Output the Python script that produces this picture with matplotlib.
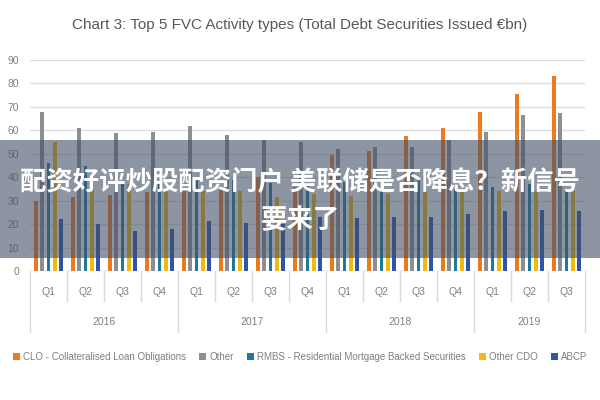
import numpy as np
import matplotlib
matplotlib.use("Agg")
import matplotlib.pyplot as plt
from matplotlib.patches import Rectangle
import matplotlib.transforms as mtransforms

# values (EUR bn)
years = ['2016', '2017', '2018', '2019']
quarters = ['Q1', 'Q2', 'Q3', 'Q4', 'Q1', 'Q2', 'Q3', 'Q4',
            'Q1', 'Q2', 'Q3', 'Q4', 'Q1', 'Q2', 'Q3']
clo = [30, 31.5, 32.5, 33.5, 35, 35, 40, 36, 49.5, 51, 57.5, 61, 68, 75.5, 83]
other = [68, 61, 59, 59.5, 62, 58, 56, 55, 52, 53, 53, 56, 59.5, 66.5, 67.5]
rmbs = [46, 45, 38, 38, 39, 39, 37.5, 37, 38, 35, 39, 35, 36, 37, 35]
other_cdo = [55, 35, 37, 34, 34, 34, 31.5, 33, 32, 33, 34, 34, 34, 34, 34]
abcp = [22, 20, 17, 18, 21.5, 20.5, 20, 23, 22.5, 23, 23, 24.5, 25.5, 26, 25.5]

series = [
    ('CLO - Collateralised Loan Obligations', clo, '#EE7A1E'),
    ('Other', other, '#8C8F94'),
    ('RMBS - Residential Mortgage Backed Securities', rmbs, '#1F7A9A'),
    ('Other CDO', other_cdo, '#F2B90F'),
    ('ABCP', abcp, '#2F55A8'),
]

txt_font = ['Liberation Sans', 'DejaVu Sans']
grey = '#7F7F7F'

fig = plt.figure(figsize=(6, 4), dpi=100)
ax = fig.add_axes([0.05, 0.3225, 0.925, 0.5275])

x = np.arange(len(quarters))
offsets = [-0.34, -0.17, 0, 0.17, 0.34]
for (name, vals, col), off in zip(series, offsets):
    ax.bar(x + off, vals, width=0.1, color=col, label=name, zorder=3)

ax.set_xlim(-0.5, len(quarters) - 0.5)
ax.set_ylim(0, 90)
ax.set_yticks(range(0, 91, 10))
ax.yaxis.grid(True, color='#DDDDDD', lw=1, zorder=0)
for s in ax.spines.values():
    s.set_visible(False)
ax.tick_params(axis='y', length=0, labelsize=7.5, labelcolor=grey, pad=8)
for lab in ax.get_yticklabels():
    lab.set_family(txt_font)
ax.set_xticks([])

# two-level category axis
trans = mtransforms.blended_transform_factory(ax.transData, ax.transAxes)
for i, q in enumerate(quarters):
    ax.text(i, -0.1, q, transform=trans, ha='center', va='center',
            fontsize=7.5, color=grey, family=txt_font)
bounds = np.arange(len(quarters) + 1) - 0.5
for b in bounds:
    bottom = -0.29 if (b + 0.5) % 4 == 0 or b == bounds[-1] else -0.14
    ax.plot([b, b], [0, bottom], transform=trans, color='#D9D9D9', lw=1,
            clip_on=False)
for k, yr in enumerate(years):
    start = k * 4
    end = min(start + 4, len(quarters))
    ax.text((start + end - 1) / 2, -0.24, yr, transform=trans, ha='center',
            va='center', fontsize=7.5, color=grey, family=txt_font)

fig.text(0.5, 0.937, 'Chart 3: Top 5 FVC Activity types (Total Debt Securities Issued €bn)',
         ha='center', va='center', fontsize=11, color='#595959', family=txt_font)

leg = fig.legend(loc='center', bbox_to_anchor=(0.5, 0.108), ncol=5, frameon=False,
                 handlelength=0.7, handleheight=0.7,
                 columnspacing=1.4, handletextpad=0.3,
                 prop={'family': txt_font, 'size': 7})
for t in leg.get_texts():
    t.set_color(grey)

# semi-transparent banner with headline
fig.patches.append(Rectangle((0, 1 - 258 / 400), 1, 118 / 400, transform=fig.transFigure,
                             facecolor=(0.26, 0.31, 0.40), alpha=0.6, zorder=5))
cjk = ['Noto Sans CJK SC', 'DejaVu Sans']
fig.text(0.5, 1 - 182 / 400, '配资好评炒股配资门户 美联储是否降息？新信号',
         ha='center', va='center', fontsize=19, color='white', weight='bold',
         family=cjk, zorder=6)
fig.text(0.5, 1 - 221 / 400, '要来了', ha='center', va='center', fontsize=19,
         color='white', weight='bold', family=cjk, zorder=6)

fig.savefig('out.png', dpi=100)
